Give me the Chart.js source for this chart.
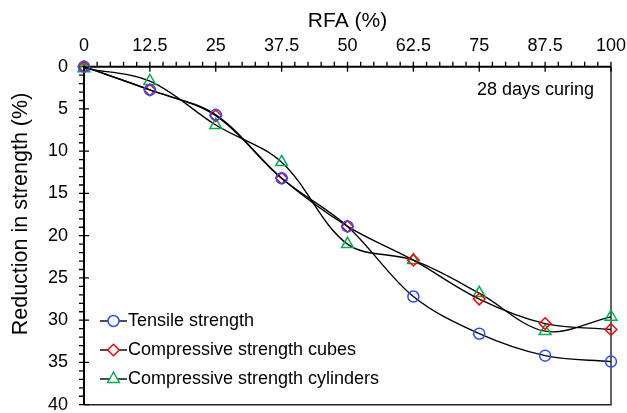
<!DOCTYPE html>
<html>
<head>
<meta charset="utf-8">
<script src="https://cdn.jsdelivr.net/npm/chart.js@4.4.1/dist/chart.umd.min.js"></script>
<style>
  html, body { margin: 0; padding: 0; background: #fff; }
  #wrap { width: 627px; height: 413px; }
</style>
</head>
<body>
<div id="wrap"><canvas id="rfaChart" width="627" height="413"></canvas></div>
<script>
// RFA replacement level (%)
var rfa = [0, 12.5, 25, 37.5, 50, 62.5, 75, 87.5, 100];
// reduction in strength (%) at 28 days
var tensile = [0, 2.75, 5.7, 13.2, 18.9, 27.2, 31.6, 34.2, 34.9];
var cubes = [0, 2.75, 5.8, 13.2, 18.9, 22.9, 27.5, 30.4, 31.1];
var cylinders = [0.2, 1.7, 6.9, 11.3, 21.0, 22.9, 26.8, 31.3, 29.6];

var xTicks = [0, 12.5, 25, 37.5, 50, 62.5, 75, 87.5, 100];
var yTicks = [0, 5, 10, 15, 20, 25, 30, 35, 40];

var FONT = "'Liberation Sans', Arial, sans-serif";

function pts(ys) {
    return rfa.map(function (x, i) { return { x: x, y: ys[i] }; });
}

function series(label, ys, color, style, radius) {
    return {
        label: label,
        data: pts(ys),
        borderColor: '#000',
        borderWidth: 1.4,
        tension: 0.34,
        fill: false,
        clip: false,
        pointStyle: style,
        pointRadius: radius,
        pointHoverRadius: radius,
        pointBorderColor: color,
        pointBackgroundColor: 'rgba(0,0,0,0)',
        pointBorderWidth: 1.5
    };
}

// keep tick labels from pushing the plot area inwards
function noEdgePadding(s) {
    s.paddingLeft = 0;
    s.paddingRight = 0;
    s.paddingTop = 0;
    s.paddingBottom = 0;
}

// axis lines, minor/major tick marks, titles, note and legend
var decor = {
    id: 'decor',
    beforeDatasetsDraw: function (chart) {
        var ctx = chart.ctx, a = chart.chartArea;
        var xs = chart.scales.x, ys = chart.scales.y;
        ctx.save();
        // thin frame on right and bottom
        ctx.strokeStyle = '#222';
        ctx.lineWidth = 1.4;
        ctx.beginPath();
        ctx.moveTo(a.left, a.bottom);
        ctx.lineTo(a.right, a.bottom);
        ctx.lineTo(a.right, a.top);
        ctx.stroke();
        // main axes
        ctx.strokeStyle = '#000';
        ctx.lineWidth = 2;
        ctx.beginPath();
        ctx.moveTo(a.left, a.bottom);
        ctx.lineTo(a.left, a.top);
        ctx.lineTo(a.right, a.top);
        ctx.stroke();
        ctx.lineWidth = 1.3;
        ctx.beginPath();
        for (var v = 0; v <= 100.001; v += 2.5) {
            var px = xs.getPixelForValue(v);
            var major = Math.abs(v % 12.5) < 0.001;
            ctx.moveTo(px, a.top - 5);
            ctx.lineTo(px, major ? a.top + 5 : a.top);
        }
        for (var w = 0; w <= 40; w += 1) {
            var py = ys.getPixelForValue(w);
            ctx.moveTo(a.left - 5, py);
            ctx.lineTo(w % 5 === 0 ? a.left + 5 : a.left, py);
        }
        ctx.stroke();
        ctx.restore();
    },
    afterDraw: function (chart) {
        var ctx = chart.ctx, a = chart.chartArea;
        ctx.save();
        ctx.fillStyle = '#000';
        // axis titles
        ctx.font = '21px ' + FONT;
        ctx.textAlign = 'center';
        ctx.textBaseline = 'alphabetic';
        ctx.fillText('RFA (%)', (a.left + a.right) / 2, 27);
        ctx.save();
        ctx.translate(21, 214);
        ctx.rotate(-Math.PI / 2);
        ctx.font = '21.5px ' + FONT;
        ctx.textBaseline = 'middle';
        ctx.fillText('Reduction in strength (%)', 0, 0);
        ctx.restore();
        // curing note
        ctx.font = '18px ' + FONT;
        ctx.textAlign = 'left';
        ctx.fillText('28 days curing', 477, 95);
        // legend: line stub with marker, then label
        var rowY = [321, 350, 379];
        chart.data.datasets.forEach(function (ds, i) {
            var y = rowY[i];
            ctx.strokeStyle = '#000';
            ctx.lineWidth = 1.4;
            ctx.beginPath();
            ctx.moveTo(100, y);
            ctx.lineTo(127, y);
            ctx.stroke();
            ctx.strokeStyle = ds.pointBorderColor;
            ctx.fillStyle = '#fff';
            ctx.lineWidth = ds.pointBorderWidth;
            Chart.helpers.drawPoint(ctx, {
                pointStyle: ds.pointStyle, radius: ds.pointRadius,
                rotation: 0, borderWidth: ds.pointBorderWidth
            }, 113.5, y);
            ctx.fillStyle = '#000';
            ctx.textBaseline = 'middle';
            ctx.fillText(ds.label, 128, y + 0.5);
        });
        ctx.restore();
    }
};

var ctx = document.getElementById('rfaChart').getContext('2d');
var rfaChart = new Chart(ctx, {
    type: 'line',
    data: {
        datasets: [
            series('Tensile strength', tensile, '#2a4bff', 'circle', 5.5),
            series('Compressive strength cubes', cubes, '#ff0000', 'rectRot', 5.8),
            series('Compressive strength cylinders', cylinders, '#00b050', 'triangle', 6.8)
        ]
    },
    options: {
        responsive: false,
        animation: false,
        layout: { padding: { left: 0, right: 16, top: 0, bottom: 8 } },
        plugins: {
            legend: { display: false },
            tooltip: { enabled: false }
        },
        scales: {
            x: {
                type: 'linear',
                position: 'top',
                min: 0,
                max: 100,
                afterBuildTicks: function (s) {
                    s.ticks = xTicks.map(function (v) { return { value: v }; });
                },
                afterFit: function (s) { s.height = 66.7; noEdgePadding(s); },
                grid: { display: false },
                border: { display: false },
                ticks: {
                    color: '#000',
                    font: { family: FONT, size: 18 },
                    padding: 2,
                    maxRotation: 0,
                    autoSkip: false
                }
            },
            y: {
                type: 'linear',
                reverse: true,
                min: 0,
                max: 40,
                afterBuildTicks: function (s) {
                    s.ticks = yTicks.map(function (v) { return { value: v }; });
                },
                afterFit: function (s) { s.width = 84; noEdgePadding(s); },
                grid: { display: false },
                border: { display: false },
                ticks: {
                    color: '#000',
                    font: { family: FONT, size: 18 },
                    padding: 8,
                    autoSkip: false
                }
            }
        }
    },
    plugins: [decor]
});
</script>
</body>
</html>
